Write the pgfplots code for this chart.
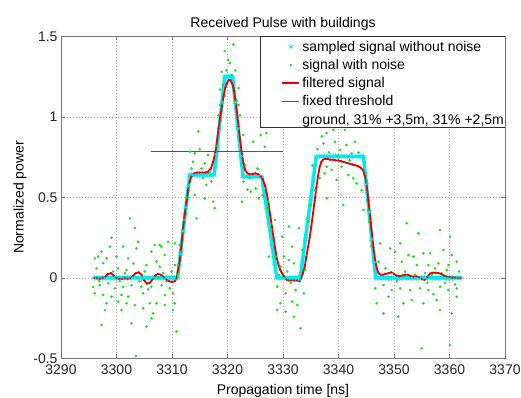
\documentclass[border=0pt]{standalone}
\usepackage{pgfplots}
\pgfplotsset{compat=1.18}
\usepackage{fontspec}
\setmainfont{Liberation Sans}
\definecolor{axgray}{RGB}{120,120,120}
\definecolor{gridgray}{RGB}{175,175,175}
\definecolor{mgreen}{RGB}{20,225,20}
\definecolor{mcyan}{RGB}{0,235,240}
\definecolor{mred}{RGB}{235,0,0}
\definecolor{thr}{RGB}{85,85,85}
\newcommand{\fs}{\fontsize{14}{16}\selectfont}
\begin{document}
\begin{tikzpicture}
\begin{axis}[
  scale only axis, width=444pt, height=322pt,
  xmin=3290, xmax=3370, ymin=-0.5, ymax=1.5,
  xtick={3290,3300,...,3370}, ytick={-0.5,0,0.5,1,1.5},
  grid=major, major grid style={gridgray, dash pattern=on 1pt off 2pt},
  axis line style={axgray}, tick style={axgray},
  tick align=inside, major tick length=4pt,
  xtick pos=both, ytick pos=both,
  ticklabel style={font=\fs, text=black!85},
  xticklabel style={yshift=-3pt},
  /pgf/number format/assume math mode=true,
  /pgf/number format/1000 sep={},
  yticklabel style={/pgf/number format/fixed},
  title={Received Pulse with buildings},
  title style={font=\fs, yshift=-3pt},
  xlabel={Propagation time [ns]},
  ylabel={Normalized power},
  label style={font=\fs},
  xlabel style={yshift=-2.5pt},
  legend cell align=left,
  legend style={at={(axis description cs:0.496,0.993)}, anchor=north west, draw=none, fill=none, font=\fs,
    inner xsep=0pt, inner ysep=0pt, row sep=2.6pt},
]
% sampled signal without noise (band)
\addplot[mcyan, line width=3.5pt, line join=round, forget plot] coordinates {
(3296,0)(3311,0)(3313.2,0.64)(3317.6,0.64)(3319.5,1.25)(3320.9,1.25)(3322.8,0.63)(3326.2,0.63)(3328.9,0)(3333.1,0)(3336.0,0.755)(3344.5,0.755)(3346.7,0)(3362,0)};
\addplot[mcyan, only marks, mark=asterisk, mark size=2.8pt, mark options={line width=0.6pt}] coordinates {
(3296,0)(3296.5,0)(3297,0)(3297.5,0)(3298,0)(3298.5,0)(3299,0)(3299.5,0)(3300,0)(3300.5,0)
(3301,0)(3301.5,0)(3302,0)(3302.5,0)(3303,0)(3303.5,0)(3304,0)(3304.5,0)(3305,0)(3305.5,0)
(3306,0)(3306.5,0)(3307,0)(3307.5,0)(3308,0)(3308.5,0)(3309,0)(3309.5,0)(3310,0)(3310.5,0)(3311,0)
(3311.5,0.15)(3312,0.29)(3312.5,0.44)(3312.9,0.57)(3313.2,0.64)
(3313.5,0.64)(3314,0.64)(3314.5,0.64)(3315,0.64)(3315.5,0.64)(3316,0.64)(3316.5,0.64)(3317,0.64)(3317.5,0.64)
(3318,0.77)(3318.5,0.93)(3319,1.09)(3319.5,1.25)
(3319.8,1.25)(3320.2,1.25)(3320.6,1.25)(3320.9,1.25)
(3321.4,1.09)(3321.9,0.93)(3322.4,0.76)(3322.8,0.63)
(3323,0.63)(3323.5,0.63)(3324,0.63)(3324.5,0.63)(3325,0.63)(3325.5,0.63)(3326,0.63)
(3326.5,0.56)(3327,0.44)(3327.5,0.33)(3328,0.21)(3328.5,0.09)(3328.9,0)
(3329.3,0)(3329.8,0)(3330.3,0)(3330.8,0)(3331.3,0)(3331.8,0)(3332.3,0)(3332.8,0)(3333.1,0)
(3333.5,0.10)(3334,0.24)(3334.5,0.37)(3335,0.49)(3335.5,0.62)(3336,0.755)
(3336.5,0.755)(3337,0.755)(3337.5,0.755)(3338,0.755)(3338.5,0.755)(3339,0.755)(3339.5,0.755)(3340,0.755)
(3340.5,0.755)(3341,0.755)(3341.5,0.755)(3342,0.755)(3342.5,0.755)(3343,0.755)(3343.5,0.755)(3344,0.755)(3344.5,0.755)
(3345,0.58)(3345.5,0.41)(3346,0.24)(3346.4,0.10)(3346.7,0)
(3347,0)(3347.5,0)(3348,0)(3348.5,0)(3349,0)(3349.5,0)(3350,0)(3350.5,0)(3351,0)(3351.5,0)
(3352,0)(3352.5,0)(3353,0)(3353.5,0)(3354,0)(3354.5,0)(3355,0)(3355.5,0)(3356,0)(3356.5,0)
(3357,0)(3357.5,0)(3358,0)(3358.5,0)(3359,0)(3359.5,0)(3360,0)(3360.5,0)(3361,0)(3361.5,0)(3362,0)};
\addlegendentry{sampled signal without noise}
% signal with noise
\addplot[only marks, mark=*, mark size=1.1pt, mgreen, mark options={draw=none, fill=mgreen}] table {
3295.8 -0.055
3296.1 0.122
3296.1 -0.095
3296.4 0.06
3296.7 0.133
3296.9 -0.02
3297.0 -0.045
3297.3 0.163
3297.3 -0.292
3297.6 0.092
3297.6 -0.105
3297.9 -0.199
3298.2 0.122
3298.2 -0.157
3298.5 -0.033
3298.8 0.195
3299.1 0.25
3299.1 -0.116
3299.4 0.04
3299.7 -0.064
3300.0 0.133
3300.3 0.06
3300.3 -0.147
3300.6 -0.02
3300.9 -0.105
3300.9 -0.199
3301.2 0.195
3301.2 -0.055
3301.5 0.03
3301.8 0.05
3301.8 -0.157
3302.1 0.122
3302.1 -0.116
3302.4 0.37
3302.7 -0.045
3302.7 -0.281
3303.0 0.09
3303.3 0.31
3303.3 -0.168
3303.5 -0.485
3303.6 0.184
3303.9 0.225
3304.2 -0.02
3304.5 -0.055
3304.8 -0.095
3304.8 -0.188
3305.1 0.04
3305.4 0.08
3305.4 -0.302
3305.7 -0.07
3306.0 -0.157
3306.3 0.163
3306.3 -0.055
3306.3 -0.25
3306.6 -0.22
3306.9 0.205
3307.2 0.102
3307.2 -0.157
3307.5 0.0
3307.8 0.07
3307.8 0.205
3308.1 0.195
3308.1 -0.045
3308.4 0.03
3308.7 0.143
3308.7 -0.105
3308.7 -0.168
3309.0 -0.02
3309.3 0.225
3309.6 -0.064
3309.9 0.04
3310.2 -0.095
3310.2 -0.199
3310.5 0.215
3310.5 0.08
3310.5 -0.157
3310.8 -0.333
3311.0 0.02
3311.1 0.08
3311.4 0.205
3311.7 0.164
3311.9 0.3
3312.2 0.36
3312.6 0.5
3313.0 0.58
3313.25 0.785
3313.5 0.68
3313.8 0.722
3314.1 0.775
3314.1 0.515
3314.4 0.371
3314.75 0.91
3315.0 0.80
3315.3 0.68
3315.6 0.62
3315.9 0.712
3315.9 0.494
3316.2 0.578
3316.5 0.764
3316.8 0.66
3317.1 0.6
3317.4 0.474
3317.7 0.433
3317.9 0.82
3318.35 1.01
3318.65 1.17
3318.65 1.075
3318.95 1.28
3319.2 1.2
3319.5 1.41
3319.5 1.13
3319.8 1.29
3320.1 1.355
3320.4 1.335
3320.7 1.26
3321.05 1.45
3321.4 1.29
3321.7 1.1
3322.0 1.18
3322.0 1.075
3322.25 1.01
3322.6 0.474
3322.85 0.888
3322.9 0.598
3323.2 0.7
3323.6 0.55
3324.0 0.62
3324.2 0.536
3324.65 0.846
3325.1 0.556
3325.4 0.68
3325.65 0.494
3326.0 0.888
3326.3 0.515
3326.7 0.815
3327.0 0.9
3327.2 0.433
3327.36 0.474
3327.46 0.133
3327.9 0.3
3328.56 0.36
3328.66 0.133
3328.96 -0.054
3328.96 -0.198
3329.3 0.02
3329.56 0.071
3329.56 -0.157
3329.86 0.257
3330.16 0.133
3330.46 -0.095
3330.46 -0.209
3330.76 0.04
3331.06 0.32
3331.06 0.112
3331.4 -0.03
3331.66 0.195
3331.66 -0.147
3331.96 0.091
3331.96 -0.24
3332.26 -0.075
3332.56 -0.168
3332.86 0.31
3333.16 -0.312
3333.46 0.174
3333.76 -0.095
3334.0 0.05
3334.3 0.133
3334.6 0.35
3335.0 0.45
3335.3 0.7
3335.8 0.546
3336.2 0.8
3336.6 0.62
3337.0 0.88
3337.26 0.836
3337.5 0.65
3337.86 0.90
3337.86 0.691
3337.9 0.495
3338.3 0.78
3338.76 0.671
3339.06 0.92
3339.36 0.846
3339.66 0.609
3339.9 0.76
3340.26 0.795
3340.56 0.691
3340.86 0.453
3341.16 0.92
3341.46 0.826
3341.76 0.64
3342.0 0.73
3342.36 0.774
3342.66 0.619
3342.96 0.846
3343.26 0.588
3343.6 0.78
3344.16 0.546
3344.5 0.422
3345.1 0.609
3345.5 0.35
3345.9 0.2
3346.6 -0.065
3346.9 -0.157
3347.2 0.101
3347.5 0.215
3347.8 0.02
3348.1 -0.044
3348.1 -0.22
3348.5 0.06
3349.0 -0.116
3349.3 0.184
3349.6 -0.075
3349.9 0.03
3350.2 0.163
3350.5 -0.02
3350.8 -0.24
3351.1 0.215
3351.1 -0.065
3351.4 0.101
3351.7 -0.157
3352.0 0.04
3352.3 0.34
3352.6 0.143
3352.9 -0.075
3353.2 -0.137
3353.5 0.133
3353.8 0.02
3354.1 0.08
3354.4 0.277
3354.7 -0.065
3355.0 -0.437
3355.3 0.153
3355.3 -0.157
3355.6 0.03
3356.0 -0.03
3356.2 0.08
3356.2 -0.075
3356.5 0.153
3356.8 0.02
3357.1 -0.1
3357.4 0.06
3357.7 -0.137
3358.0 0.091
3358.3 0.298
3358.3 -0.054
3358.3 -0.199
3358.6 0.03
3358.9 0.174
3359.2 -0.03
3359.5 0.05
3359.8 0.08
3359.8 -0.075
3360.1 0.257
3360.1 -0.416
3360.4 0.143
3360.4 -0.22
3360.7 0.0
3361.0 -0.04
3361.3 0.101
3361.3 -0.065
3361.3 -0.116
3361.7 0.04
};
\addlegendentry{signal with noise}
% filtered signal
\addplot[mred, line width=1.8pt, mark=*, mark size=0.9pt, mark options={fill=mred, draw=mred, line width=0.2pt}] table {
3296 0.0
3296.5 0.0
3297 -0.005
3297.5 0.0
3298 0.01
3298.5 0.025
3299 0.03
3299.5 0.015
3300 0.0
3300.5 -0.005
3301 -0.005
3301.5 0.0
3302 -0.005
3302.5 0.0
3303 0.015
3303.5 0.03
3304 0.035
3304.5 0.02
3305 -0.015
3305.5 -0.035
3306 -0.03
3306.5 -0.01
3307 0.015
3307.5 0.025
3308 0.02
3308.5 0.005
3309 -0.01
3309.5 -0.02
3310 -0.025
3310.5 -0.02
3310.8 0.0
3311.1 0.05
3311.4 0.11
3311.7 0.2
3312 0.31
3312.3 0.4
3312.6 0.47
3312.9 0.55
3313.2 0.6
3313.5 0.63
3314 0.65
3314.5 0.655
3315 0.655
3315.5 0.655
3316 0.655
3316.5 0.66
3317 0.68
3317.4 0.72
3317.8 0.78
3318.1 0.85
3318.4 0.93
3318.7 1.0
3319 1.07
3319.3 1.13
3319.6 1.18
3319.9 1.21
3320.2 1.23
3320.5 1.23
3320.8 1.21
3321.1 1.18
3321.4 1.11
3321.7 1.03
3322 0.94
3322.3 0.85
3322.6 0.77
3322.9 0.71
3323.2 0.67
3323.6 0.65
3324 0.645
3324.5 0.645
3325 0.65
3325.5 0.645
3326 0.63
3326.4 0.61
3326.8 0.57
3327.1 0.52
3327.4 0.46
3327.7 0.39
3328 0.32
3328.3 0.25
3328.6 0.18
3328.9 0.12
3329.2 0.08
3329.5 0.05
3329.8 0.03
3330.2 0.01
3330.6 -0.01
3331 -0.015
3331.5 -0.015
3332 -0.015
3332.5 -0.015
3333 -0.02
3333.3 0.0
3333.6 0.03
3333.9 0.07
3334.2 0.13
3334.5 0.19
3334.8 0.25
3335.1 0.32
3335.4 0.4
3335.7 0.48
3336 0.56
3336.3 0.63
3336.6 0.69
3336.9 0.72
3337.2 0.735
3337.6 0.74
3338 0.74
3338.5 0.735
3339 0.735
3339.5 0.73
3340 0.73
3340.5 0.725
3341 0.72
3341.5 0.715
3342 0.71
3342.5 0.705
3343 0.70
3343.5 0.695
3344 0.685
3344.4 0.67
3344.8 0.63
3345.1 0.57
3345.4 0.48
3345.7 0.38
3346 0.28
3346.3 0.19
3346.6 0.11
3346.9 0.06
3347.2 0.03
3347.6 0.02
3348 0.02
3348.5 0.025
3349 0.03
3349.5 0.035
3350 0.025
3350.5 0.015
3351 0.01
3351.5 0.015
3352 0.02
3352.5 0.02
3353 0.012
3353.5 0.008
3354 0.01
3354.5 0.005
3355 -0.005
3355.5 -0.012
3356 0.005
3356.5 0.028
3357 0.033
3357.5 0.033
3358 0.03
3358.5 0.025
3359 0.015
3359.5 0.008
3360 0.005
3360.5 0.003
3361 0.003
3361.5 0.0
3362 0.0
};
\addlegendentry{filtered signal}
% fixed threshold
\addplot[thr, line width=1.2pt] coordinates {(3306.2,0.785)(3330,0.785)};
\addlegendentry{fixed threshold}
\addlegendimage{empty legend}
\addlegendentry{ground, 31\% +3,5m, 31\% +2,5m}
% legend frame (on top of the plots, under the legend)
\draw[black!80, fill=white] (axis description cs:0.448,0.719) rectangle (axis description cs:1,1);
\end{axis}
\pgfresetboundingbox
\path ([xshift=-61pt,yshift=-39.5pt]current axis.south west) rectangle ([xshift=16pt,yshift=36.5pt]current axis.north east);
\end{tikzpicture}
\end{document}
